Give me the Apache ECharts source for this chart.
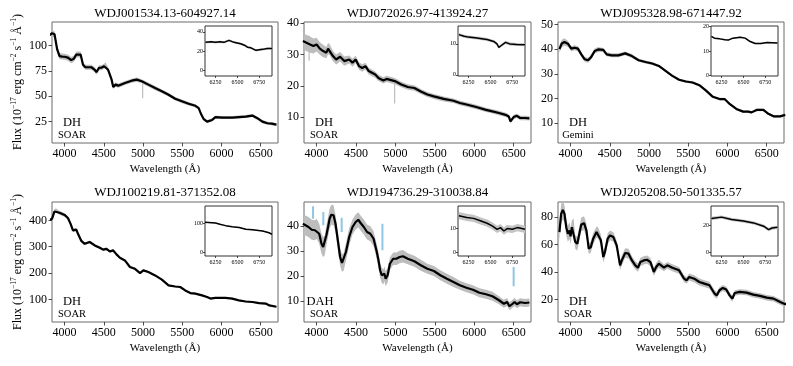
<!DOCTYPE html>
<html><head><meta charset="utf-8">
<script src="https://cdn.jsdelivr.net/npm/echarts@6/dist/echarts.min.js"></script>
<style>html,body{margin:0;padding:0;background:#fff}#c{width:793px;height:366px}</style>
</head><body><div id="c"></div>
<script>
// ---------------- DATA ----------------
const titles = ['WDJ001534.13-604927.14','WDJ072026.97-413924.27','WDJ095328.98-671447.92',
                'WDJ100219.81-371352.08','WDJ194736.29-310038.84','WDJ205208.50-501335.57'];
const spectralTypes = ['DH','DH','DH','DH','DAH','DH'];
const telescopes = ['SOAR','SOAR','Gemini','SOAR','SOAR','SOAR'];
const xTickValues = [4000,4500,5000,5500,6000,6500];
const insetXTicks = [6250,6500,6750];
const yTickValues = [[25,50,75,100],[10,20,30,40],[10,20,30,40,50],[100,200,300,400],[10,20,30,40],[20,40,60,80]];
const yRanges = [[4,123],[1.7,40.4],[2,51],[14,470],[1.6,49.6],[3.7,91]];
const insetYTicks = [[0,20,40],[0,10],[0,10,20],[0,100],[0,10],[0,20]];
const insetYRanges = [[-6,46],[-0.4,15.8],[-0.3,20.3],[-11,157],[-1.4,19.2],[-2.4,34]];

// [wavelength, smoothed flux, half-width of grey unsmoothed scatter]
const spec1 = [[3810,110,3],[3840,112,3],[3872,111,3],[3906,96,3],[3936,89.4,3],[3970,89,3],[4000,88.8,3],[4043,88,3],[4085,85.5,3],[4120,87,3],[4150,91,3],[4205,91,3],[4235,81,2.5],[4265,78.5,2.5],[4342,78.5,2.5],[4385,76,2.5],[4406,73.6,2.5],[4440,78,2.5],[4470,78,2.5],[4504,79.5,2.5],[4521,81,2.5],[4555,76,2.5],[4600,66.3,2],[4620,59,2],[4650,61.4,2],[4684,60.4,2],[4770,63,2],[4855,65.3,2],[4920,66.3,2],[4983,64.7,2],[5068,61.4,2],[5154,58,2],[5240,54.8,1.8],[5325,51.5,1.8],[5410,47.5,1.8],[5496,45,1.8],[5581,42.6,1.8],[5667,40.6,1.5],[5709,38.3,1.5],[5744,31.7,1.5],[5774,27.4,1.5],[5816,25,1.5],[5880,26.7,1.5],[5923,29.4,1.5],[6009,29,1.5],[6137,29,1.5],[6308,30,1.5],[6393,31,1.5],[6457,28.4,1.5],[6521,25,1.5],[6585,23.4,1.5],[6640,23,1.5],[6700,22,1.5]];
const spec2 = [[3826,34.3,2.6],[3850,34,2.6],[3917,33.2,2.6],[3959,32.7,2.4],[4000,33.2,2.2],[4041,31.9,2],[4083,31.1,2],[4124,30.6,1.8],[4145,31.9,1.8],[4165,31.6,1.8],[4207,29.5,1.6],[4248,28.4,1.6],[4298,29.3,1.5],[4351,27.9,1.5],[4413,28.4,1.3],[4455,27.4,1.3],[4496,28.4,1.2],[4537,26.3,1.2],[4579,25.7,1.2],[4620,26.3,1.1],[4661,24.7,1.1],[4744,23.6,1],[4785,22.5,1],[4847,21.7,1],[4888,22.2,1],[4992,21.5,1],[5074,20.4,0.9],[5157,19.6,0.9],[5240,19.3,0.9],[5322,18.2,0.8],[5405,17.2,0.8],[5488,16.6,0.8],[5612,15.8,0.8],[5736,15.2,0.7],[5818,14.5,0.7],[5901,14,0.7],[6025,13.2,0.7],[6149,12.3,0.7],[6231,11.8,0.7],[6314,11.3,0.7],[6397,10.7,0.7],[6438,10.2,0.7],[6459,8.6,0.7],[6500,10,0.7],[6541,10.4,0.7],[6583,9.7,0.7],[6645,9.7,0.7],[6700,9.6,0.7]];
const spec3 = [[3858,40,1.5],[3888,42.3,1.5],[3923,42.9,1.5],[3966,42.2,1.2],[4009,40.2,1],[4052,40.6,1],[4094,40.2,1],[4137,37.9,1],[4180,35.9,1],[4223,35.5,1],[4258,36.6,1],[4309,39.3,1],[4352,39.9,1],[4417,39.7,0.8],[4460,37.9,0.8],[4524,37.5,0.8],[4610,37.5,0.8],[4696,38.3,0.8],[4782,37.2,0.8],[4868,35.5,0.6],[4954,34.8,0.6],[5040,34.2,0.6],[5125,33.2,0.5],[5211,31.2,0.5],[5297,29.2,0.5],[5383,27.6,0.5],[5469,26.9,0.5],[5555,26.5,0.5],[5641,25.4,0.5],[5727,23.2,0.5],[5813,20.7,0.5],[5899,19.8,0.5],[5963,19.8,0.5],[6027,17.8,0.5],[6113,15.8,0.5],[6199,14.7,0.5],[6264,14.7,0.5],[6306,14.4,0.5],[6371,15.4,0.5],[6457,15.4,0.5],[6521,13.8,0.5],[6586,12.8,0.5],[6672,12.8,0.5],[6736,13.4,0.5]];
const spec4 = [[3808,402,8],[3840,406,8],[3872,434,8],[3890,438,8],[3936,429,7],[4000,421,7],[4043,409,6],[4077,387,6],[4107,362,6],[4150,365,6],[4171,349,5],[4214,322,5],[4256,311,5],[4320,318,5],[4385,305,5],[4449,296,5],[4491,289,5],[4534,292,5],[4577,282,5],[4620,286,5],[4662,271,4],[4705,258,4],[4769,248,4],[4833,223,4],[4897,216,4],[4962,200,4],[5004,210,4],[5068,204,4],[5154,191,3],[5240,175,3],[5325,153,3],[5410,149,3],[5474,147,3],[5538,134,3],[5603,124,3],[5667,122,3],[5752,115,3],[5816,109,3],[5859,103,3],[5923,106,3],[5987,106,3],[6051,106,3],[6137,103,3],[6222,96,3],[6308,92,3],[6393,90,3],[6479,86,3],[6564,84,3],[6610,77,3],[6700,72,3]];
const spec5 = [[3826,40.9,4],[3850,40.3,4],[3897,39.6,4],[3938,38.5,4],[3979,38.3,4],[4000,38.9,4],[4033,36.9,4],[4062,32.9,4],[4083,31.6,4],[4103,32.3,4],[4124,36.3,4],[4145,39.6,4],[4165,42.9,4],[4186,44.5,4],[4215,44.3,4],[4240,40.9,3.5],[4269,34.3,3.5],[4298,27.6,3.5],[4322,25.2,3.5],[4343,25.6,3.5],[4372,29.6,3.5],[4413,35.6,3.5],[4455,39.6,3],[4496,41.6,3],[4529,42.5,3],[4558,41.2,3],[4599,39.6,3],[4640,37.6,3],[4682,36.9,3],[4723,34.9,3],[4764,29.6,3],[4785,26.3,3],[4806,22.3,3],[4826,20.3,3],[4847,19.6,3],[4860,20.9,3],[4876,18.9,3],[4901,20.3,3],[4930,24.9,2.5],[4971,26.9,2.5],[5012,26.9,2.5],[5054,27.6,2.5],[5095,27.9,2.5],[5157,26.9,2.2],[5240,25.9,2.2],[5322,24.3,2.2],[5405,22.9,2],[5488,22,2],[5570,20.3,2],[5653,18.9,2],[5736,17.6,2],[5818,16.3,1.8],[5901,15.3,1.8],[5983,14.5,1.8],[6066,13.3,1.8],[6149,12.7,1.8],[6231,11.9,1.8],[6314,10.3,1.6],[6376,8.9,1.6],[6417,9.6,1.6],[6446,7.9,1.6],[6479,8.7,1.6],[6512,9.6,1.6],[6541,8.7,1.6],[6583,9.5,1.6],[6645,9.2,1.6],[6700,9.4,1.6]];
const spec6 = [[3858,69.1,7],[3880,82.4,7],[3901,85.3,7],[3923,82.4,6],[3945,72.7,6],[3966,67.9,6],[3987,70.3,6],[4000,66,6],[4017,72.7,5],[4039,74,5],[4060,61.9,5],[4086,60.6,5],[4116,69.1,5],[4137,74.7,5],[4172,75.6,5],[4202,70.3,5],[4232,57,4],[4258,58.2,4],[4288,64.3,4],[4331,69.1,4],[4352,68.4,4],[4387,63.1,4],[4417,51,4],[4438,54.6,4],[4473,64.3,4],[4503,66.7,3.5],[4546,65.5,3.5],[4588,59.4,3.5],[4631,44.9,3.5],[4653,48.5,3.5],[4696,53.9,3.5],[4739,53.4,3.5],[4782,48.5,3],[4825,44.9,3],[4859,43.2,3],[4889,47.3,3],[4932,48.5,3],[4975,49,3],[5018,47.3,3],[5061,40.1,3],[5091,43.7,3],[5125,46.1,3],[5190,43.2,2.5],[5233,44.9,2.5],[5297,43.2,2.5],[5383,41.3,2.5],[5447,35.2,2.5],[5478,34,2.5],[5512,36.4,2.5],[5576,35.2,2.5],[5641,32.8,2.5],[5705,31.6,2.5],[5770,30.4,2.5],[5834,24.4,2.5],[5864,23.1,2.5],[5898,26.8,2.2],[5941,28.5,2.2],[5984,27.3,2.2],[6027,23.1,2.2],[6062,20.7,2.2],[6092,24.8,2],[6156,25.6,2],[6242,25.1,2],[6328,23.6,2],[6414,22.7,2],[6500,21.4,2],[6586,20.7,2],[6672,18.3,2],[6736,16.6,2],[6760,17.6,2]];
const mainSpectra = [spec1,spec2,spec3,spec4,spec5,spec6];

// isolated grey outliers: [wavelength, low, high]
const spikes = [[[4995,48,62]],[[4990,14.3,21],[3905,28,36]],[],[],[],[]];

// inset spectra, [wavelength, smoothed flux, grey half-width]
const inset1 = [[6134,29,1.2],[6200,29.5,1.2],[6250,29,1.2],[6300,29.5,1.2],[6346,29,1.2],[6404,31,1.2],[6462,29,1.2],[6538,27.5,1.2],[6580,26,1.2],[6615,24,1.2],[6654,23.3,1.2],[6712,20.7,1.2],[6750,21.2,1.2],[6788,21.7,1.2],[6840,22.5,1.2],[6896,22.7,1.2]];
const inset2 = [[6140,13,0.5],[6200,12.5,0.5],[6250,12.2,0.5],[6346,11.9,0.5],[6400,11.7,0.5],[6462,11.4,0.5],[6538,10.8,0.5],[6575,10,0.5],[6596,8.9,0.5],[6620,9.4,0.5],[6673,10.5,0.5],[6720,10,0.5],[6800,9.8,0.5],[6895,9.7,0.5]];
const inset3 = [[6134,16,0.3],[6170,15.3,0.3],[6230,15,0.3],[6290,14.6,0.3],[6327,14.5,0.3],[6380,15.3,0.3],[6462,15.7,0.3],[6520,15.3,0.3],[6577,13.9,0.3],[6635,13.1,0.3],[6700,13.1,0.3],[6770,13.5,0.3],[6890,13.3,0.3]];
const inset4 = [[6130,102,1.5],[6250,100,1.5],[6300,96,1.5],[6365,91,1.5],[6442,87,1.5],[6520,85,1.5],[6596,79,1.5],[6673,77,1.5],[6740,75,1.5],[6788,73,1.5],[6860,67,1.5],[6895,62,1.5]];
const inset5 = [[6140,15.2,1.5],[6230,14.5,1.5],[6308,14.1,1.5],[6385,13.1,1.5],[6462,12.1,1.5],[6520,11,1.5],[6577,9.6,1.5],[6615,10.3,1.5],[6654,8.9,1.5],[6692,9.9,1.5],[6750,9.6,1.5],[6808,10.3,1.5],[6895,9.6,1.5]];
const inset6 = [[6134,24.9,1.2],[6250,25.9,1.2],[6365,24.2,1.2],[6500,23,1.2],[6615,21.7,1.2],[6731,19.3,1.2],[6788,16.8,1.2],[6827,18,1.2],[6890,18.5,1.2]];
const insetSpectra = [inset1,inset2,inset3,inset4,inset5,inset6];

// Balmer-line markers in the DAH panel: [wavelength, bottom, top]
const dahMarkers = [[3955,42.9,47.9],[4085,40.3,45.6],[4318,37.6,43.3],[4835,30.3,40.9],[6500,15.9,23.6]];

// ---------------- LAYOUT ----------------
const FONT = '"Liberation Serif", "Times New Roman", serif';
const colLeft = [52,304,558], colWidth = [226,227,226];
const rowTop = [22,202], rowHeight = [121,120];
const xMin = 3840, xMax = 6720, insetXMin = 6130, insetXMax = 6895;
const FRAME = '#6a6a6a';

const grids = [], xAxes = [], yAxes = [], series = [], graphics = [];
const plain = v => String(v);
function makeAxis(pos, gi, min, max, ticks, fs, margin, tickLen, z, showLabel) {
  return {type:'value', gridIndex:gi, position:pos, min, max, z,
    axisLine:{show:false, onZero:false}, splitLine:{show:false},
    axisTick:{show:true, inside:false, length:tickLen, customValues:ticks, lineStyle:{color:'#222', width:0.8}},
    axisLabel:{show:showLabel, fontFamily:FONT, fontSize:fs, color:'#000', margin, customValues:ticks, formatter:plain,
      hideOverlap:false, showMinLabel:true, showMaxLabel:true}};
}
function addSpectrum(spec, ai, lw, zb, grey) {
  series.push({type:'custom', xAxisIndex:ai, yAxisIndex:ai, z:zb, silent:true, clip:true,
    data:[[spec[0][0], spec[0][1]]],
    renderItem:(params, api)=>{
      const up = spec.map(d=>api.coord([d[0], d[1]+d[2]]));
      const lo = spec.map(d=>api.coord([d[0], d[1]-d[2]])).reverse();
      return {type:'polygon', shape:{points:up.concat(lo)}, style:{fill:grey}};
    }});
  series.push({type:'line', xAxisIndex:ai, yAxisIndex:ai, symbol:'none', silent:true, z:zb+1,
    lineStyle:{color:'#000', width:lw}, data: spec.map(d=>[d[0], d[1]])});
}
for (let i=0;i<6;i++){
  const r = Math.floor(i/3), c = i%3;
  const L = colLeft[c], W = colWidth[c], T = rowTop[r], H = rowHeight[r];
  grids.push({left:L, top:T, width:W, height:H, show:true, borderColor:FRAME, borderWidth:1, backgroundColor:'transparent'});
  xAxes.push(makeAxis('bottom', i, xMin, xMax, xTickValues, 12, 5, 3.5, 3, true));
  yAxes.push(makeAxis('left', i, yRanges[i][0], yRanges[i][1], yTickValues[i], 12, 5, 3.5, 3, true));
  addSpectrum(mainSpectra[i], i, 2.2, 2, '#bdbdbd');
  if (spikes[i].length){
    series.push({type:'line', xAxisIndex:i, yAxisIndex:i, symbol:'none', silent:true, z:2, connectNulls:false,
      lineStyle:{color:'#bdbdbd', width:1.2},
      data: spikes[i].flatMap(s=>[[s[0],s[1]],[s[0],s[2]],'-'])});
  }
  graphics.push({type:'text', x:L+W/2, y:r?193:14, style:{text:titles[i], font:'13px '+FONT, fill:'#000', align:'center', verticalAlign:'middle'}});
  graphics.push({type:'text', x:L+W/2, y:T+H+26, style:{text:'Wavelength (Å)', font:'11px '+FONT, fill:'#000', align:'center', verticalAlign:'middle'}});
  const ax = (i===4) ? L+16 : L+20;
  graphics.push({type:'text', x:ax, y:T+H-20, z:20, style:{text:spectralTypes[i], font:'12.5px '+FONT, fill:'#000', align:'center', verticalAlign:'middle'}});
  graphics.push({type:'text', x:L+20, y:T+H-8, z:20, style:{text:telescopes[i], font:'10.5px '+FONT, fill:'#000', align:'center', verticalAlign:'middle'}});
}
const insetBoxes = [];
for (let i=0;i<6;i++){
  const r = Math.floor(i/3), c = i%3;
  const W = 67, L = colLeft[c]+colWidth[c]-6-W, T = rowTop[r]+4, H = 50;
  insetBoxes.push({L,T,W,H});
  const gi = 6+i;
  grids.push({left:L, top:T, width:W, height:H, show:true, borderColor:'#333', borderWidth:1, backgroundColor:'#fff', z:10});
  xAxes.push(makeAxis('bottom', gi, insetXMin, insetXMax, insetXTicks, 6, 2, 2, 12, false));
  yAxes.push(makeAxis('left', gi, insetYRanges[i][0], insetYRanges[i][1], insetYTicks[i], 6, 2, 2, 12, true));
  addSpectrum(insetSpectra[i], gi, 1.5, 12, '#c4c4c4');
}
series.push({type:'line', xAxisIndex:4, yAxisIndex:4, symbol:'none', silent:true, z:5, connectNulls:false,
  lineStyle:{color:'#8ec6e3', width:2},
  data: dahMarkers.flatMap(m=>[[m[0],m[1]],[m[0],m[2]],'-'])});

const yTitle = '{a|Flux (10}{s|−17}{a| erg cm}{s|−2}{a| s}{s|−1}{a| Å}{s|−1}{a|)}';
[82,262].forEach(cy=>{
  graphics.push({type:'text', x:18, y:cy, rotation:Math.PI/2, style:{text:yTitle, align:'center', verticalAlign:'middle',
    rich:{a:{fontFamily:FONT, fontSize:12, fill:'#000', lineHeight:15}, s:{fontFamily:FONT, fontSize:7.5, fill:'#000', verticalAlign:'top', lineHeight:15}}}});
});

const chart = echarts.init(document.getElementById('c'), null, {renderer:'canvas'});
chart.setOption({animation:false, grid:grids, xAxis:xAxes, yAxis:yAxes, series:series, graphic:graphics});
// inset wavelength tick labels, placed through each inset's own x scale
const insetLabels = [];
insetBoxes.forEach((b,i)=>{
  insetXTicks.forEach(t=>{
    const px = chart.convertToPixel({xAxisIndex:6+i}, t);
    insetLabels.push({type:'text', x:px, y:b.T+b.H+3, z:30, style:{text:String(t), font:'6px '+FONT, fill:'#000', align:'center', verticalAlign:'top'}});
  });
});
chart.setOption({graphic: graphics.concat(insetLabels)});
</script></body></html>
